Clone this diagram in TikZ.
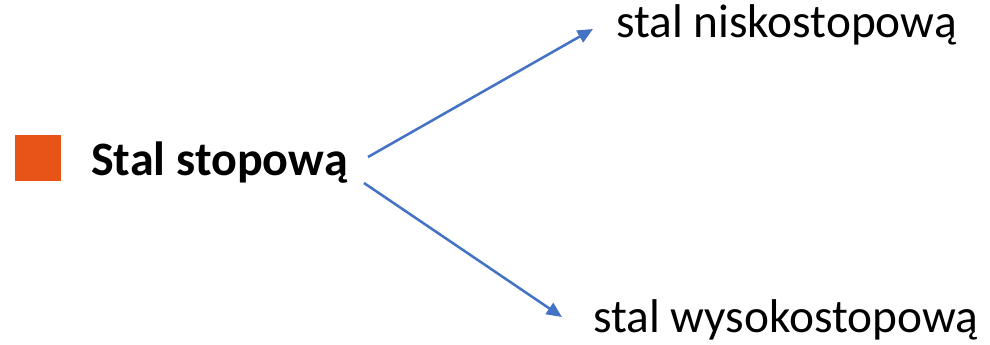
\documentclass[tikz,border=0pt]{standalone}
\usepackage{fontspec}
\setmainfont{Carlito}
\usetikzlibrary{arrows.meta}
\definecolor{sqorange}{RGB}{232,84,24}
\definecolor{arrblue}{RGB}{68,114,196}
\tikzset{
  lbl/.style={anchor=base west, inner sep=0pt, text=black},
  conn/.style={draw=arrblue, line width=1.9pt, -{Triangle[length=11.5pt,width=10pt]}}
}
\begin{document}
\begin{tikzpicture}[x=0.75pt,y=-0.75pt]
\useasboundingbox (0,0) rectangle (990,344);
\fill[sqorange] (15,135) rectangle (61,181);
\node[lbl, font=\fontsize{36}{40}\selectfont\bfseries] (main) at (91,175) {Stal stopową};
\node[lbl, font=\fontsize{35.5}{40}\selectfont] (low) at (616,37) {stal niskostopową};
\node[lbl, font=\fontsize{35.5}{40}\selectfont] (high) at (593,332) {stal wysokostopową};
\coordinate (s1) at (368,157);
\coordinate (e1) at (593,29);
\coordinate (s2) at (364,183);
\coordinate (e2) at (562,317);
\draw[conn] (s1) -- (e1);
\draw[conn] (s2) -- (e2);
\end{tikzpicture}
\end{document}
